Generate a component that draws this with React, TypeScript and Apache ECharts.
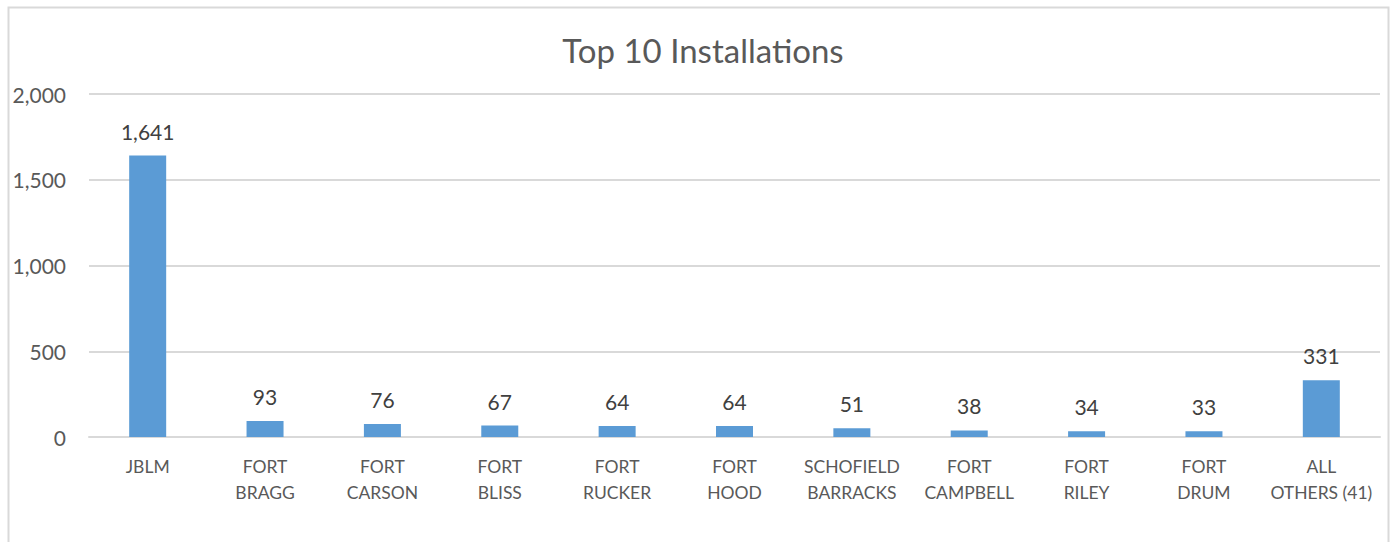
import React, { useEffect, useRef } from "react";
import * as echarts from "echarts";

const categories = [
  "JBLM",
  "FORT\nBRAGG",
  "FORT\nCARSON",
  "FORT\nBLISS",
  "FORT\nRUCKER",
  "FORT\nHOOD",
  "SCHOFIELD\nBARRACKS",
  "FORT\nCAMPBELL",
  "FORT\nRILEY",
  "FORT\nDRUM",
  "ALL\nOTHERS (41)",
];
const values = [1641, 93, 76, 67, 64, 64, 51, 38, 34, 33, 331];
const title = "Top 10 Installations";

const FONT = "Lato, 'Open Sans', sans-serif";
const TEXT = "#595959";

export default function App() {
  const ref = useRef<HTMLDivElement>(null);
  useEffect(() => {
    document.body.style.margin = "0";
    const chart = echarts.init(ref.current!, undefined, { renderer: "svg" });
    chart.setOption({
      animation: false,
      backgroundColor: "#ffffff",
      textStyle: { fontFamily: FONT },
      title: {
        text: title,
        left: 698,
        top: 28,
        textAlign: "center",
        textStyle: { fontFamily: FONT, fontSize: 33, fontWeight: "normal", color: TEXT },
      },
      graphic: [
        {
          type: "rect",
          shape: { x: 8.5, y: 7.5, width: 1380, height: 600 },
          style: { fill: "none", stroke: "#d9d9d9", lineWidth: 2 },
          silent: true,
        },
      ],
      grid: { left: 89, right: 12, top: 94, bottom: 105 },
      xAxis: {
        type: "category",
        data: categories,
        axisTick: { show: false },
        axisLine: { lineStyle: { color: "#d9d9d9", width: 2 } },
        axisLabel: {
          interval: 0,
          margin: 16,
          fontSize: 17.5,
          lineHeight: 26,
          color: TEXT,
          fontFamily: FONT,
        },
      },
      yAxis: {
        type: "value",
        min: 0,
        max: 2000,
        interval: 500,
        axisLine: { show: false },
        axisTick: { show: false },
        splitLine: { lineStyle: { color: "#d9d9d9", width: 2 } },
        axisLabel: {
          margin: 23,
          fontSize: 21,
          color: TEXT,
          fontFamily: FONT,
          formatter: (v: number) => v.toLocaleString("en-US"),
        },
      },
      series: [
        {
          type: "bar",
          data: values,
          barWidth: 37,
          itemStyle: { color: "#5B9BD5" },
          label: {
            show: true,
            position: "top",
            distance: 14,
            fontSize: 21,
            color: "#404040",
            fontFamily: FONT,
            formatter: (p: any) => Number(p.value).toLocaleString("en-US"),
          },
        },
      ],
    });
    return () => chart.dispose();
  }, []);
  return <div ref={ref} style={{ width: 1392, height: 542 }} />;
}
